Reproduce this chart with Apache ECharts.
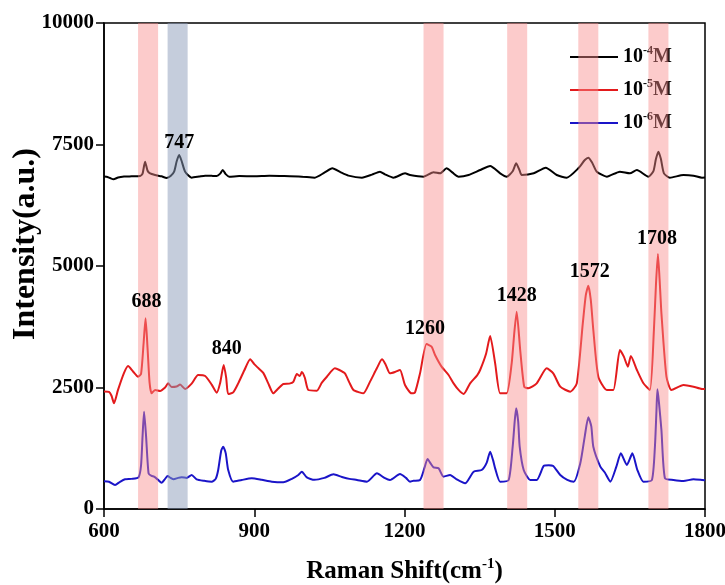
<!DOCTYPE html>
<html>
<head>
<meta charset="utf-8">
<script src="https://cdn.jsdelivr.net/npm/echarts@6/dist/echarts.min.js"></script>
<style>html,body{margin:0;padding:0;background:#fff}#c{width:725px;height:585px}</style>
</head>
<body>
<div id="c"></div>
<script>
// ---- data ----
const seriesNames = ['10^-4M', '10^-5M', '10^-6M'];
const seriesColors = ['#000000', '#e31a1c', '#1a14c8'];

const blackX = [600,605,612,619,628,640,655,672,677,682,687,692,702,715,725,733,740,745,750,755,762,775,790,802,815,825,832,837,843,850,870,900,930,960,995,1021,1040,1056,1072,1088,1115,1135,1151,1161,1178,1201,1211,1238,1258,1271,1284,1296,1308,1328,1351,1371,1391,1404,1416,1423,1430,1434,1458,1482,1504,1524,1547,1560,1567,1575,1584,1604,1630,1650,1664,1687,1697,1702,1707,1712,1718,1730,1757,1777,1794,1800];
const blackY = [6840,6838,6810,6784,6820,6840,6845,6852,6900,7147,6960,6904,6872,6845,6811,6850,6941,7150,7284,7160,6941,6818,6840,6859,6855,6852,6900,6975,6890,6838,6850,6845,6855,6850,6838,6818,6920,7010,6930,6859,6818,6880,6940,6886,6818,6907,6872,6838,6928,6907,7010,6920,6838,6872,6975,7058,6907,6838,6950,7113,6960,6872,6907,7023,6872,6818,7010,7180,7229,7120,6941,6838,6941,6907,6975,6838,6950,7200,7352,7200,6907,6818,6872,6859,6818,6820];

const redX = [600,610,615,620,628,640,648,658,668,674,679,683,687,691,695,702,712,722,728,735,745,752,762,775,788,802,815,825,832,839,844,848,858,868,880,892,900,908,918,928,938,948,958,970,978,985,991,995,1001,1008,1025,1035,1045,1061,1070,1081,1090,1098,1110,1118,1131,1145,1155,1162,1171,1181,1191,1201,1214,1221,1231,1244,1254,1261,1274,1288,1298,1308,1318,1331,1345,1351,1363,1371,1381,1391,1404,1414,1419,1424,1431,1439,1447,1464,1484,1497,1511,1531,1544,1556,1562,1567,1572,1577,1587,1604,1617,1630,1638,1646,1652,1664,1677,1690,1698,1702,1706,1710,1713,1723,1733,1757,1777,1794,1800];
const redY = [2420,2410,2330,2175,2450,2800,2942,2830,2722,2780,3400,3923,3300,2600,2380,2450,2430,2500,2586,2510,2520,2560,2470,2580,2757,2737,2560,2393,2600,2963,2700,2366,2400,2585,2850,3080,2980,2900,2800,2585,2380,2480,2572,2580,2616,2778,2737,2820,2700,2448,2435,2600,2722,2894,2860,2791,2600,2449,2400,2380,2616,2900,3080,2980,2791,2820,2860,2551,2380,2400,2791,3395,3340,3169,2929,2757,2586,2450,2366,2586,2750,2860,3200,3560,2997,2380,2380,2997,3600,4060,3272,2517,2483,2586,2894,2792,2517,2414,2586,3820,4400,4595,4300,3683,2722,2449,2449,3272,3134,2929,3148,2860,2586,2449,3683,4600,5247,4600,4026,2722,2449,2551,2517,2470,2470];

const blueX = [600,610,622,632,642,655,669,674,677,680,684,689,695,700,708,715,722,727,733,739,748,755,765,775,785,800,815,823,828,834,838,843,848,858,875,895,915,935,958,975,988,995,1005,1020,1040,1058,1075,1090,1105,1125,1145,1160,1171,1191,1203,1211,1218,1231,1240,1246,1252,1258,1268,1278,1291,1304,1321,1338,1354,1364,1371,1377,1381,1391,1408,1416,1420,1423,1427,1430,1438,1451,1464,1478,1488,1497,1511,1525,1538,1551,1560,1567,1573,1577,1591,1600,1611,1623,1632,1644,1655,1665,1677,1694,1700,1703,1705,1708,1713,1720,1737,1757,1777,1794,1800];
const blueY = [570,560,494,560,611,620,652,900,1500,2002,1500,734,680,665,600,542,620,679,640,611,640,652,640,700,611,580,562,620,802,1200,1282,1150,802,562,597,631,600,562,549,620,700,768,650,600,640,713,660,620,597,562,734,640,597,720,640,562,581,597,850,1029,940,857,837,665,700,611,528,768,802,950,1180,1000,837,562,597,1282,1800,2072,1800,1282,802,597,597,885,900,885,700,600,562,940,1500,1886,1700,1282,871,750,562,871,1145,905,1145,802,562,597,1282,2000,2462,2200,1625,631,597,577,611,597,590];

const peakLabels = ['747', '688', '840', '1260', '1428', '1572', '1708'];
const peakLabelX = [750, 685, 845, 1241, 1424, 1570, 1704];
const peakLabelY = [7525, 4253, 3292, 3704, 4383, 4883, 5549];

const bandStart = [668, 727, 1238, 1405, 1547, 1687];
const bandEnd   = [708, 767, 1278, 1445, 1587, 1727];
const bandKind  = ['pink', 'grey', 'pink', 'pink', 'pink', 'pink'];

const xTicks = [600, 900, 1200, 1500, 1800];
const yTicks = [0, 2500, 5000, 7500, 10000];

// ---- chart ----
const serif = 'Liberation Serif';
const zip = (xs, ys) => xs.map((x, i) => [x, ys[i]]);
const bandColors = { pink: 'rgba(249,140,140,0.45)', grey: 'rgba(140,155,185,0.5)' };

const lineData = [zip(blackX, blackY), zip(redX, redY), zip(blueX, blueY)];

const series = seriesNames.map((name, i) => ({
  name: name,
  type: 'line',
  data: lineData[i],
  symbol: 'none',
  smooth: 0.2,
  z: 2,
  lineStyle: { color: seriesColors[i], width: 2 },
  itemStyle: { color: seriesColors[i] }
}));

series.push({
  name: 'bands',
  type: 'line',
  data: [],
  z: 5,
  silent: true,
  markArea: {
    silent: true,
    z: 5,
    data: bandStart.map((s, i) => [
      { xAxis: s, itemStyle: { color: bandColors[bandKind[i]] } },
      { xAxis: bandEnd[i] }
    ])
  }
});

series.push({
  name: 'labels',
  type: 'scatter',
  symbolSize: 0,
  silent: true,
  z: 6,
  itemStyle: { opacity: 1 },
  data: peakLabelX.map((x, i) => ({ value: [x, peakLabelY[i]], name: peakLabels[i] })),
  label: {
    show: true,
    position: 'inside',
    formatter: p => p.name,
    color: '#000',
    opacity: 1,
    fontFamily: serif,
    fontWeight: 'bold',
    fontSize: 20
  }
});

function supName(n) {
  const m = n.match(/^10\^(-\d)M$/);
  return '{b|10}{s|' + m[1] + '}{b|M}';
}

const option = {
  animation: false,
  backgroundColor: '#fff',
  grid: { left: 104, right: 20, top: 23, bottom: 76, containLabel: false, outerBoundsMode: 'none',
    show: true, borderColor: '#000', borderWidth: 1.5, backgroundColor: 'transparent' },
  legend: {
    data: seriesNames,
    orient: 'vertical',
    left: 565,
    top: 40,
    itemWidth: 48,
    itemHeight: 10,
    itemGap: 11,
    icon: 'path://M0,4 L48,4 L48,6 L0,6 Z',
    formatter: supName,
    textStyle: {
      color: '#000',
      rich: {
        b: { fontFamily: serif, fontWeight: 'bold', fontSize: 20, color: '#000' },
        s: { fontFamily: serif, fontWeight: 'bold', fontSize: 12, color: '#000', padding: [0, 0, 12, 0] }
      }
    }
  },
  xAxis: {
    type: 'value',
    min: 600, max: 1800, interval: 300,
    name: '{a|Raman Shift(cm}{s|-1}{a|)}',
    nameLocation: 'middle',
    nameGap: 48,
    nameMoveOverlap: false,
    nameTextStyle: {
      rich: {
        a: { fontFamily: serif, fontWeight: 'bold', fontSize: 25, color: '#000' },
        s: { fontFamily: serif, fontWeight: 'bold', fontSize: 15, color: '#000', padding: [0, 0, 14, 0] }
      }
    },
    axisLine: { show: true, lineStyle: { color: '#000', width: 1.5 } },
    axisTick: { show: true, inside: false, length: 8, lineStyle: { color: '#000', width: 1.5 } },
    axisLabel: { margin: 12, color: '#000', fontFamily: serif, fontWeight: 'bold', fontSize: 21,
      formatter: v => (xTicks.indexOf(v) >= 0 ? String(v) : '') },
    splitLine: { show: false }
  },
  yAxis: {
    type: 'value',
    min: 0, max: 10000, interval: 2500,
    name: 'Intensity(a.u.)',
    nameLocation: 'middle',
    nameGap: 62,
    nameMoveOverlap: false,
    nameTextStyle: { fontFamily: serif, fontWeight: 'bold', fontSize: 32, color: '#000', padding: [0, 0, 0, 44] },
    axisLine: { show: true, lineStyle: { color: '#000', width: 1.5 } },
    axisTick: { show: true, inside: false, length: 8, lineStyle: { color: '#000', width: 1.5 } },
    axisLabel: { margin: 10, color: '#000', fontFamily: serif, fontWeight: 'bold', fontSize: 21,
      formatter: v => (yTicks.indexOf(v) >= 0 ? String(v) : '') },
    splitLine: { show: false }
  },
  series: series
};

const chart = echarts.init(document.getElementById('c'), null, { renderer: 'canvas' });
chart.setOption(option);
</script>
</body>
</html>
